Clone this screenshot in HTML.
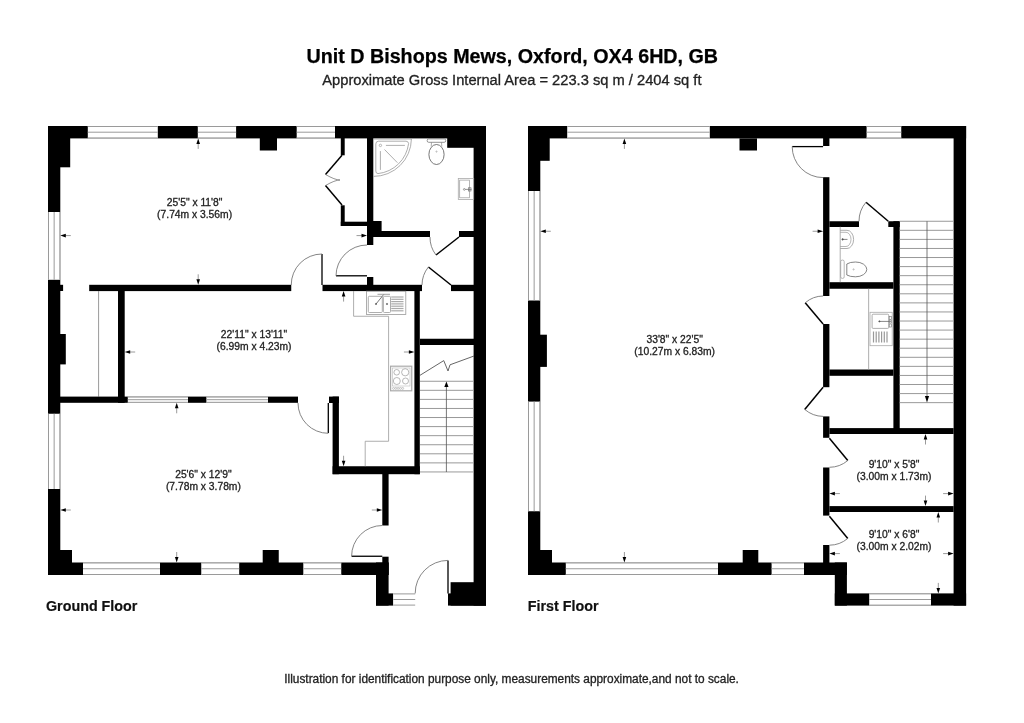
<!DOCTYPE html>
<html><head><meta charset="utf-8"><style>
html,body{margin:0;padding:0;background:#fff;}
body{width:1024px;height:723px;overflow:hidden;}
svg{display:block;will-change:transform;}
text{font-family:"Liberation Sans",sans-serif;}
</style></head><body>
<svg width="1024" height="723" viewBox="0 0 1024 723">
<rect width="1024" height="723" fill="#fff"/>
<rect x="48.00" y="126.00" width="438.00" height="12.40" fill="#000"/>
<rect x="87.80" y="126.00" width="70.00" height="12.40" fill="#fff"/>
<line x1="87.80" y1="126.50" x2="157.80" y2="126.50" stroke="#9a9a9a" stroke-width="1"/>
<line x1="87.80" y1="132.20" x2="157.80" y2="132.20" stroke="#9a9a9a" stroke-width="1"/>
<line x1="87.80" y1="137.90" x2="157.80" y2="137.90" stroke="#9a9a9a" stroke-width="1"/>
<rect x="197.80" y="126.00" width="38.30" height="12.40" fill="#fff"/>
<line x1="197.80" y1="126.50" x2="236.10" y2="126.50" stroke="#9a9a9a" stroke-width="1"/>
<line x1="197.80" y1="132.20" x2="236.10" y2="132.20" stroke="#9a9a9a" stroke-width="1"/>
<line x1="197.80" y1="137.90" x2="236.10" y2="137.90" stroke="#9a9a9a" stroke-width="1"/>
<rect x="296.70" y="126.00" width="38.30" height="12.40" fill="#fff"/>
<line x1="296.70" y1="126.50" x2="335.00" y2="126.50" stroke="#9a9a9a" stroke-width="1"/>
<line x1="296.70" y1="132.20" x2="335.00" y2="132.20" stroke="#9a9a9a" stroke-width="1"/>
<line x1="296.70" y1="137.90" x2="335.00" y2="137.90" stroke="#9a9a9a" stroke-width="1"/>
<rect x="48.00" y="126.00" width="22.20" height="41.30" fill="#000"/>
<rect x="259.80" y="138.00" width="17.20" height="12.50" fill="#000"/>
<rect x="447.20" y="138.00" width="26.80" height="9.80" fill="#000"/>
<rect x="473.60" y="126.00" width="12.40" height="479.60" fill="#000"/>
<rect x="48.00" y="126.00" width="12.30" height="449.00" fill="#000"/>
<rect x="48.00" y="212.00" width="12.30" height="67.80" fill="#fff"/>
<line x1="48.50" y1="212.00" x2="48.50" y2="279.80" stroke="#9a9a9a" stroke-width="1"/>
<line x1="54.15" y1="212.00" x2="54.15" y2="279.80" stroke="#9a9a9a" stroke-width="1"/>
<line x1="59.80" y1="212.00" x2="59.80" y2="279.80" stroke="#9a9a9a" stroke-width="1"/>
<rect x="48.00" y="413.75" width="12.30" height="75.25" fill="#fff"/>
<line x1="48.50" y1="413.75" x2="48.50" y2="489.00" stroke="#9a9a9a" stroke-width="1"/>
<line x1="54.15" y1="413.75" x2="54.15" y2="489.00" stroke="#9a9a9a" stroke-width="1"/>
<line x1="59.80" y1="413.75" x2="59.80" y2="489.00" stroke="#9a9a9a" stroke-width="1"/>
<rect x="60.00" y="284.80" width="3.10" height="6.20" fill="#000"/>
<rect x="60.00" y="334.00" width="5.80" height="30.40" fill="#000"/>
<rect x="48.00" y="550.00" width="24.00" height="25.00" fill="#000"/>
<rect x="48.00" y="562.50" width="340.60" height="12.50" fill="#000"/>
<rect x="83.00" y="562.50" width="77.00" height="12.50" fill="#fff"/>
<line x1="83.00" y1="563.00" x2="160.00" y2="563.00" stroke="#9a9a9a" stroke-width="1"/>
<line x1="83.00" y1="568.75" x2="160.00" y2="568.75" stroke="#9a9a9a" stroke-width="1"/>
<line x1="83.00" y1="574.50" x2="160.00" y2="574.50" stroke="#9a9a9a" stroke-width="1"/>
<rect x="201.25" y="562.50" width="37.95" height="12.50" fill="#fff"/>
<line x1="201.25" y1="563.00" x2="239.20" y2="563.00" stroke="#9a9a9a" stroke-width="1"/>
<line x1="201.25" y1="568.75" x2="239.20" y2="568.75" stroke="#9a9a9a" stroke-width="1"/>
<line x1="201.25" y1="574.50" x2="239.20" y2="574.50" stroke="#9a9a9a" stroke-width="1"/>
<rect x="303.30" y="562.50" width="37.95" height="12.50" fill="#fff"/>
<line x1="303.30" y1="563.00" x2="341.25" y2="563.00" stroke="#9a9a9a" stroke-width="1"/>
<line x1="303.30" y1="568.75" x2="341.25" y2="568.75" stroke="#9a9a9a" stroke-width="1"/>
<line x1="303.30" y1="574.50" x2="341.25" y2="574.50" stroke="#9a9a9a" stroke-width="1"/>
<rect x="262.70" y="550.00" width="16.05" height="13.00" fill="#000"/>
<rect x="382.30" y="474.00" width="6.30" height="51.50" fill="#000"/>
<rect x="382.30" y="556.70" width="6.30" height="18.30" fill="#000"/>
<rect x="376.00" y="562.50" width="12.60" height="43.10" fill="#000"/>
<rect x="376.00" y="593.40" width="17.30" height="12.20" fill="#000"/>
<rect x="393.30" y="593.40" width="21.90" height="12.20" fill="#fff"/>
<line x1="393.30" y1="593.90" x2="415.20" y2="593.90" stroke="#9a9a9a" stroke-width="1"/>
<line x1="393.30" y1="599.50" x2="415.20" y2="599.50" stroke="#9a9a9a" stroke-width="1"/>
<line x1="393.30" y1="605.10" x2="415.20" y2="605.10" stroke="#9a9a9a" stroke-width="1"/>
<rect x="448.00" y="593.40" width="38.00" height="12.20" fill="#000"/>
<rect x="450.60" y="582.20" width="35.40" height="23.40" fill="#000"/>
<line x1="448.00" y1="560.60" x2="448.00" y2="593.40" stroke="#000" stroke-width="1.3"/>
<path d="M415.20,593.40 A32.80,32.80 0 0 1 448.00,560.40" stroke="#777" stroke-width="0.9" fill="none"/>
<line x1="351.60" y1="556.25" x2="382.30" y2="556.25" stroke="#000" stroke-width="1.3"/>
<path d="M382.30,525.50 A30.75,30.75 0 0 0 351.60,556.25" stroke="#777" stroke-width="0.9" fill="none"/>
<rect x="89.20" y="284.80" width="202.05" height="6.30" fill="#000"/>
<rect x="322.50" y="284.80" width="99.50" height="6.30" fill="#000"/>
<rect x="451.00" y="284.80" width="23.00" height="6.30" fill="#000"/>
<line x1="322.00" y1="254.00" x2="322.00" y2="285.00" stroke="#000" stroke-width="1.3"/>
<path d="M291.25,285.00 A30.75,30.75 0 0 1 322.00,254.00" stroke="#777" stroke-width="0.9" fill="none"/>
<rect x="118.00" y="291.00" width="6.70" height="111.80" fill="#000"/>
<line x1="98.60" y1="291.00" x2="98.60" y2="396.60" stroke="#9a9a9a" stroke-width="1"/>
<rect x="60.00" y="396.60" width="238.00" height="6.20" fill="#000"/>
<rect x="127.80" y="396.60" width="60.20" height="6.20" fill="#fff"/>
<line x1="127.80" y1="397.10" x2="188.00" y2="397.10" stroke="#9a9a9a" stroke-width="1"/>
<line x1="127.80" y1="399.70" x2="188.00" y2="399.70" stroke="#9a9a9a" stroke-width="1"/>
<line x1="127.80" y1="402.30" x2="188.00" y2="402.30" stroke="#9a9a9a" stroke-width="1"/>
<rect x="206.40" y="396.60" width="61.60" height="6.20" fill="#fff"/>
<line x1="206.40" y1="397.10" x2="268.00" y2="397.10" stroke="#9a9a9a" stroke-width="1"/>
<line x1="206.40" y1="399.70" x2="268.00" y2="399.70" stroke="#9a9a9a" stroke-width="1"/>
<line x1="206.40" y1="402.30" x2="268.00" y2="402.30" stroke="#9a9a9a" stroke-width="1"/>
<rect x="329.00" y="396.60" width="9.90" height="6.40" fill="#000"/>
<rect x="332.60" y="396.60" width="6.30" height="77.60" fill="#000"/>
<rect x="332.60" y="466.25" width="87.20" height="7.95" fill="#000"/>
<path d="M328.3,403 L328.3,433" stroke="#000" stroke-width="1.3" fill="none"/>
<path d="M298.00,403.00 A30.30,30.30 0 0 0 328.30,433.30" stroke="#777" stroke-width="0.9" fill="none"/>
<rect x="414.40" y="291.00" width="5.40" height="183.20" fill="#000"/>
<rect x="367.00" y="138.00" width="6.30" height="107.00" fill="#000"/>
<rect x="367.00" y="277.00" width="6.30" height="14.00" fill="#000"/>
<rect x="367.00" y="221.00" width="14.60" height="10.00" fill="#000"/>
<rect x="373.00" y="231.00" width="57.00" height="6.00" fill="#000"/>
<rect x="459.00" y="231.00" width="15.00" height="6.00" fill="#000"/>
<line x1="336.00" y1="275.80" x2="367.00" y2="275.80" stroke="#000" stroke-width="1.3"/>
<path d="M336.00,275.80 A31.00,31.00 0 0 1 367.00,245.00" stroke="#777" stroke-width="0.9" fill="none"/>
<line x1="459.00" y1="237.00" x2="436.00" y2="255.00" stroke="#000" stroke-width="1.5"/>
<path d="M430.00,237.00 A29.00,29.00 0 0 0 436.00,255.00" stroke="#777" stroke-width="0.9" fill="none"/>
<line x1="451.00" y1="285.00" x2="428.40" y2="267.00" stroke="#000" stroke-width="1.5"/>
<path d="M422.00,285.00 A29.00,29.00 0 0 1 428.40,267.00" stroke="#777" stroke-width="0.9" fill="none"/>
<rect x="340.80" y="138.00" width="3.90" height="17.30" fill="#000"/>
<rect x="340.80" y="205.30" width="3.90" height="20.70" fill="#000"/>
<rect x="340.80" y="221.70" width="26.20" height="4.30" fill="#000"/>
<path d="M342,155.3 L325.5,174.5" stroke="#000" stroke-width="1.5" fill="none"/>
<path d="M342,205 L325.5,185.5" stroke="#000" stroke-width="1.5" fill="none"/>
<path d="M325.5,174.5 Q335,180 340,180" stroke="#777" stroke-width="0.8" fill="none"/>
<path d="M325.5,185.5 Q335,180 340,180" stroke="#777" stroke-width="0.8" fill="none"/>
<rect x="420.00" y="338.75" width="54.00" height="6.25" fill="#000"/>
<path d="M420,375.3 L443.75,360.6 L448,371 L450,364.8 L474,356" stroke="#555" stroke-width="0.9" fill="none"/>
<line x1="420.00" y1="381.25" x2="473.60" y2="381.25" stroke="#999" stroke-width="1"/>
<line x1="420.00" y1="390.32" x2="473.60" y2="390.32" stroke="#999" stroke-width="1"/>
<line x1="420.00" y1="399.39" x2="473.60" y2="399.39" stroke="#999" stroke-width="1"/>
<line x1="420.00" y1="408.46" x2="473.60" y2="408.46" stroke="#999" stroke-width="1"/>
<line x1="420.00" y1="417.53" x2="473.60" y2="417.53" stroke="#999" stroke-width="1"/>
<line x1="420.00" y1="426.60" x2="473.60" y2="426.60" stroke="#999" stroke-width="1"/>
<line x1="420.00" y1="435.67" x2="473.60" y2="435.67" stroke="#999" stroke-width="1"/>
<line x1="420.00" y1="444.74" x2="473.60" y2="444.74" stroke="#999" stroke-width="1"/>
<line x1="420.00" y1="453.81" x2="473.60" y2="453.81" stroke="#999" stroke-width="1"/>
<line x1="420.00" y1="462.88" x2="473.60" y2="462.88" stroke="#999" stroke-width="1"/>
<line x1="420.00" y1="471.95" x2="473.60" y2="471.95" stroke="#999" stroke-width="1"/>
<line x1="446.40" y1="386.00" x2="446.40" y2="472.00" stroke="#555" stroke-width="0.8"/>
<path d="M446.4,381.5 L444.3,387 L448.5,387 Z" stroke="none" stroke-width="0" fill="#000"/>
<rect x="528.00" y="126.00" width="438.10" height="12.40" fill="#000"/>
<rect x="567.20" y="126.00" width="142.60" height="12.40" fill="#fff"/>
<line x1="567.20" y1="126.50" x2="709.80" y2="126.50" stroke="#9a9a9a" stroke-width="1"/>
<line x1="567.20" y1="132.20" x2="709.80" y2="132.20" stroke="#9a9a9a" stroke-width="1"/>
<line x1="567.20" y1="137.90" x2="709.80" y2="137.90" stroke="#9a9a9a" stroke-width="1"/>
<rect x="866.60" y="126.00" width="34.65" height="12.40" fill="#fff"/>
<line x1="866.60" y1="126.50" x2="901.25" y2="126.50" stroke="#9a9a9a" stroke-width="1"/>
<line x1="866.60" y1="132.20" x2="901.25" y2="132.20" stroke="#9a9a9a" stroke-width="1"/>
<line x1="866.60" y1="137.90" x2="901.25" y2="137.90" stroke="#9a9a9a" stroke-width="1"/>
<rect x="528.00" y="126.00" width="21.70" height="34.80" fill="#000"/>
<rect x="739.50" y="138.40" width="17.50" height="12.10" fill="#000"/>
<rect x="953.60" y="126.00" width="12.50" height="479.60" fill="#000"/>
<rect x="528.00" y="126.00" width="12.30" height="449.00" fill="#000"/>
<rect x="528.00" y="191.00" width="12.30" height="109.50" fill="#fff"/>
<line x1="528.50" y1="191.00" x2="528.50" y2="300.50" stroke="#9a9a9a" stroke-width="1"/>
<line x1="534.15" y1="191.00" x2="534.15" y2="300.50" stroke="#9a9a9a" stroke-width="1"/>
<line x1="539.80" y1="191.00" x2="539.80" y2="300.50" stroke="#9a9a9a" stroke-width="1"/>
<rect x="528.00" y="401.60" width="12.30" height="109.65" fill="#fff"/>
<line x1="528.50" y1="401.60" x2="528.50" y2="511.25" stroke="#9a9a9a" stroke-width="1"/>
<line x1="534.15" y1="401.60" x2="534.15" y2="511.25" stroke="#9a9a9a" stroke-width="1"/>
<line x1="539.80" y1="401.60" x2="539.80" y2="511.25" stroke="#9a9a9a" stroke-width="1"/>
<rect x="540.00" y="334.70" width="6.90" height="32.20" fill="#000"/>
<rect x="528.00" y="550.00" width="24.00" height="25.00" fill="#000"/>
<rect x="528.00" y="562.50" width="318.90" height="12.50" fill="#000"/>
<rect x="565.80" y="562.50" width="152.20" height="12.50" fill="#fff"/>
<line x1="565.80" y1="563.00" x2="718.00" y2="563.00" stroke="#9a9a9a" stroke-width="1"/>
<line x1="565.80" y1="568.75" x2="718.00" y2="568.75" stroke="#9a9a9a" stroke-width="1"/>
<line x1="565.80" y1="574.50" x2="718.00" y2="574.50" stroke="#9a9a9a" stroke-width="1"/>
<rect x="771.60" y="562.50" width="32.40" height="12.50" fill="#fff"/>
<line x1="771.60" y1="563.00" x2="804.00" y2="563.00" stroke="#9a9a9a" stroke-width="1"/>
<line x1="771.60" y1="568.75" x2="804.00" y2="568.75" stroke="#9a9a9a" stroke-width="1"/>
<line x1="771.60" y1="574.50" x2="804.00" y2="574.50" stroke="#9a9a9a" stroke-width="1"/>
<rect x="742.70" y="550.00" width="15.60" height="13.00" fill="#000"/>
<rect x="834.80" y="562.50" width="12.10" height="43.10" fill="#000"/>
<rect x="834.80" y="593.40" width="131.30" height="12.20" fill="#000"/>
<rect x="869.20" y="593.40" width="61.80" height="12.20" fill="#fff"/>
<line x1="869.20" y1="593.90" x2="931.00" y2="593.90" stroke="#9a9a9a" stroke-width="1"/>
<line x1="869.20" y1="599.50" x2="931.00" y2="599.50" stroke="#9a9a9a" stroke-width="1"/>
<line x1="869.20" y1="605.10" x2="931.00" y2="605.10" stroke="#9a9a9a" stroke-width="1"/>
<rect x="823.10" y="138.00" width="6.30" height="8.00" fill="#000"/>
<rect x="823.10" y="177.20" width="6.30" height="118.80" fill="#000"/>
<rect x="823.10" y="324.00" width="6.30" height="63.20" fill="#000"/>
<rect x="823.10" y="416.40" width="6.30" height="21.40" fill="#000"/>
<rect x="823.10" y="467.50" width="6.30" height="48.10" fill="#000"/>
<rect x="823.10" y="545.00" width="6.30" height="18.00" fill="#000"/>
<rect x="829.40" y="221.25" width="29.60" height="5.75" fill="#000"/>
<rect x="888.30" y="221.25" width="11.40" height="5.75" fill="#000"/>
<rect x="893.40" y="221.25" width="6.30" height="212.75" fill="#000"/>
<rect x="829.40" y="282.20" width="64.00" height="6.55" fill="#000"/>
<rect x="829.40" y="369.50" width="64.00" height="6.30" fill="#000"/>
<rect x="829.40" y="428.10" width="124.20" height="5.90" fill="#000"/>
<rect x="829.40" y="506.10" width="124.20" height="5.90" fill="#000"/>
<line x1="792.20" y1="146.60" x2="823.10" y2="146.60" stroke="#000" stroke-width="1.3"/>
<path d="M792.20,146.60 A30.90,30.90 0 0 0 823.10,177.60" stroke="#777" stroke-width="0.9" fill="none"/>
<line x1="823.10" y1="324.00" x2="805.20" y2="302.80" stroke="#000" stroke-width="1.5"/>
<path d="M805.20,302.80 A27.75,27.75 0 0 1 823.10,296.00" stroke="#777" stroke-width="0.9" fill="none"/>
<line x1="823.10" y1="387.20" x2="804.70" y2="409.40" stroke="#000" stroke-width="1.5"/>
<path d="M804.70,409.40 A28.83,28.83 0 0 0 823.10,416.40" stroke="#777" stroke-width="0.9" fill="none"/>
<line x1="829.40" y1="438.30" x2="847.80" y2="460.50" stroke="#000" stroke-width="1.5"/>
<path d="M847.80,460.50 A28.83,28.83 0 0 1 829.40,467.30" stroke="#777" stroke-width="0.9" fill="none"/>
<line x1="829.40" y1="516.30" x2="847.80" y2="538.40" stroke="#000" stroke-width="1.5"/>
<path d="M847.80,538.40 A28.76,28.76 0 0 1 829.40,545.20" stroke="#777" stroke-width="0.9" fill="none"/>
<line x1="888.30" y1="221.25" x2="866.00" y2="202.20" stroke="#000" stroke-width="1.5"/>
<path d="M866.00,202.20 A29.33,29.33 0 0 0 859.00,221.25" stroke="#777" stroke-width="0.9" fill="none"/>
<line x1="899.70" y1="221.25" x2="953.60" y2="221.25" stroke="#999" stroke-width="1"/>
<line x1="899.70" y1="230.32" x2="953.60" y2="230.32" stroke="#999" stroke-width="1"/>
<line x1="899.70" y1="239.39" x2="953.60" y2="239.39" stroke="#999" stroke-width="1"/>
<line x1="899.70" y1="248.46" x2="953.60" y2="248.46" stroke="#999" stroke-width="1"/>
<line x1="899.70" y1="257.53" x2="953.60" y2="257.53" stroke="#999" stroke-width="1"/>
<line x1="899.70" y1="266.60" x2="953.60" y2="266.60" stroke="#999" stroke-width="1"/>
<line x1="899.70" y1="275.67" x2="953.60" y2="275.67" stroke="#999" stroke-width="1"/>
<line x1="899.70" y1="284.74" x2="953.60" y2="284.74" stroke="#999" stroke-width="1"/>
<line x1="899.70" y1="293.81" x2="953.60" y2="293.81" stroke="#999" stroke-width="1"/>
<line x1="899.70" y1="302.88" x2="953.60" y2="302.88" stroke="#999" stroke-width="1"/>
<line x1="899.70" y1="311.95" x2="953.60" y2="311.95" stroke="#999" stroke-width="1"/>
<line x1="899.70" y1="321.02" x2="953.60" y2="321.02" stroke="#999" stroke-width="1"/>
<line x1="899.70" y1="330.09" x2="953.60" y2="330.09" stroke="#999" stroke-width="1"/>
<line x1="899.70" y1="339.16" x2="953.60" y2="339.16" stroke="#999" stroke-width="1"/>
<line x1="899.70" y1="348.23" x2="953.60" y2="348.23" stroke="#999" stroke-width="1"/>
<line x1="899.70" y1="357.30" x2="953.60" y2="357.30" stroke="#999" stroke-width="1"/>
<line x1="899.70" y1="366.37" x2="953.60" y2="366.37" stroke="#999" stroke-width="1"/>
<line x1="899.70" y1="375.44" x2="953.60" y2="375.44" stroke="#999" stroke-width="1"/>
<line x1="899.70" y1="384.51" x2="953.60" y2="384.51" stroke="#999" stroke-width="1"/>
<line x1="899.70" y1="393.58" x2="953.60" y2="393.58" stroke="#999" stroke-width="1"/>
<line x1="899.70" y1="402.65" x2="953.60" y2="402.65" stroke="#999" stroke-width="1"/>
<line x1="927.00" y1="221.25" x2="927.00" y2="396.00" stroke="#555" stroke-width="0.8"/>
<path d="M927,402.6 L924.9,396 L929.1,396 Z" stroke="none" stroke-width="0" fill="#000"/>
<path d="M373.5,139 L411.4,139 A37.9,37.9 0 0 1 373.5,176.4" stroke="#999" stroke-width="0.8" fill="none"/>
<path d="M375.8,144 Q375.8,141.2 378.6,141.2 L406,141.2 Q408.2,141.2 408.6,143.5 A34.5,34.5 0 0 1 378,173.6 Q375.8,173.6 375.8,171 Z" stroke="#999" stroke-width="0.8" fill="none"/>
<circle cx="380.40" cy="145.40" r="1.20" stroke="#999" stroke-width="0.7" fill="none"/>
<line x1="385.90" y1="145.40" x2="404.90" y2="145.40" stroke="#999" stroke-width="0.8"/>
<line x1="380.40" y1="151.10" x2="380.40" y2="169.90" stroke="#999" stroke-width="0.8"/>
<line x1="384.50" y1="149.50" x2="397.40" y2="162.70" stroke="#999" stroke-width="0.8"/>
<rect x="427.20" y="138.90" width="18.50" height="3.40" rx="1.5" stroke="#777" stroke-width="0.8" fill="none"/>
<ellipse cx="436.50" cy="154.50" rx="7.60" ry="10.00" stroke="#555" stroke-width="0.8" fill="none"/>
<line x1="431.50" y1="142.30" x2="431.20" y2="146.50" stroke="#888" stroke-width="0.7"/>
<line x1="441.50" y1="142.30" x2="441.80" y2="146.50" stroke="#888" stroke-width="0.7"/>
<circle cx="436.50" cy="151.60" r="0.60" stroke="#999" stroke-width="0.6" fill="none"/>
<rect x="458.30" y="178.50" width="15.40" height="21.00" rx="0" stroke="#aaa" stroke-width="0.8" fill="none"/>
<rect x="459.70" y="180.10" width="9.70" height="17.70" rx="0" stroke="#999" stroke-width="0.7" fill="none"/>
<circle cx="464.30" cy="189.40" r="0.90" stroke="#666" stroke-width="0.6" fill="none"/>
<line x1="465.20" y1="189.40" x2="471.50" y2="189.40" stroke="#666" stroke-width="0.7"/>
<rect x="468.50" y="187.80" width="2.50" height="3.20" rx="0" stroke="#666" stroke-width="0.6" fill="none"/>
<path d="M353.6,291 L353.6,316.25 L388.6,316.25 L388.6,441.25 L365.2,441.25 L365.2,466.25" stroke="#999" stroke-width="0.8" fill="none"/>
<rect x="366.50" y="291.20" width="39.30" height="23.30" rx="0" stroke="#999" stroke-width="0.8" fill="none"/>
<rect x="368.30" y="296.30" width="14.00" height="16.20" rx="1" stroke="#999" stroke-width="0.8" fill="none"/>
<rect x="383.40" y="296.30" width="7.10" height="16.20" rx="1" stroke="#999" stroke-width="0.8" fill="none"/>
<line x1="391.20" y1="297.00" x2="403.50" y2="297.00" stroke="#aaa" stroke-width="1.2"/>
<line x1="391.20" y1="299.30" x2="403.50" y2="299.30" stroke="#aaa" stroke-width="1.2"/>
<line x1="391.20" y1="301.60" x2="403.50" y2="301.60" stroke="#aaa" stroke-width="1.2"/>
<line x1="391.20" y1="303.90" x2="403.50" y2="303.90" stroke="#aaa" stroke-width="1.2"/>
<line x1="391.20" y1="306.20" x2="403.50" y2="306.20" stroke="#aaa" stroke-width="1.2"/>
<line x1="391.20" y1="308.50" x2="403.50" y2="308.50" stroke="#aaa" stroke-width="1.2"/>
<line x1="391.20" y1="310.80" x2="403.50" y2="310.80" stroke="#aaa" stroke-width="1.2"/>
<line x1="376.00" y1="304.00" x2="383.70" y2="294.50" stroke="#555" stroke-width="0.8"/>
<circle cx="376.00" cy="304.00" r="0.70" stroke="#555" stroke-width="0.5" fill="#555"/>
<circle cx="387.00" cy="304.00" r="0.70" stroke="#555" stroke-width="0.5" fill="#555"/>
<line x1="377.50" y1="294.30" x2="390.00" y2="294.30" stroke="#777" stroke-width="0.7"/>
<rect x="390.60" y="366.20" width="21.15" height="24.60" rx="0" stroke="#aaa" stroke-width="1.2" fill="none"/>
<rect x="392.40" y="368.00" width="17.60" height="18.00" rx="0" stroke="#bbb" stroke-width="0.6" fill="none"/>
<circle cx="396.70" cy="372.30" r="2.80" stroke="#999" stroke-width="0.7" fill="none"/>
<circle cx="405.20" cy="372.30" r="3.60" stroke="#999" stroke-width="0.7" fill="none"/>
<circle cx="396.80" cy="381.00" r="3.50" stroke="#999" stroke-width="0.7" fill="none"/>
<circle cx="405.50" cy="381.00" r="3.00" stroke="#999" stroke-width="0.7" fill="none"/>
<circle cx="393.50" cy="388.40" r="1.00" stroke="#aaa" stroke-width="0.6" fill="none"/>
<circle cx="395.80" cy="388.40" r="1.00" stroke="#aaa" stroke-width="0.6" fill="none"/>
<circle cx="398.10" cy="388.40" r="1.00" stroke="#aaa" stroke-width="0.6" fill="none"/>
<circle cx="400.40" cy="388.40" r="1.00" stroke="#aaa" stroke-width="0.6" fill="none"/>
<circle cx="402.70" cy="388.40" r="1.00" stroke="#aaa" stroke-width="0.6" fill="none"/>
<path d="M840.2,230.3 L847,230.3 A6.6,9.1 0 0 1 847,248.5 L840.2,248.5" stroke="#999" stroke-width="0.8" fill="none"/>
<path d="M840.2,232.3 L846,232.3 A5,7.1 0 0 1 846,246.5 L840.2,246.5" stroke="#999" stroke-width="0.7" fill="none"/>
<circle cx="842.60" cy="239.40" r="0.80" stroke="#555" stroke-width="0.5" fill="#555"/>
<line x1="842.60" y1="239.40" x2="847.50" y2="239.40" stroke="#555" stroke-width="0.7"/>
<line x1="840.20" y1="226.70" x2="840.20" y2="282.20" stroke="#999" stroke-width="0.8"/>
<rect x="840.70" y="260.10" width="3.50" height="18.30" rx="1.5" stroke="#999" stroke-width="0.7" fill="none"/>
<path d="M846.8,264 Q850,262 855.5,262 A11.3,7.4 0 0 1 855.5,276.8 Q850,276.8 846.8,275 Z" stroke="#666" stroke-width="0.8" fill="none"/>
<circle cx="853.60" cy="269.40" r="0.60" stroke="#999" stroke-width="0.6" fill="none"/>
<line x1="868.65" y1="288.75" x2="868.65" y2="369.50" stroke="#999" stroke-width="0.8"/>
<rect x="870.00" y="312.30" width="22.20" height="33.40" rx="0" stroke="#aaa" stroke-width="0.8" fill="none"/>
<rect x="872.10" y="314.20" width="16.60" height="14.20" rx="1" stroke="#999" stroke-width="0.8" fill="none"/>
<line x1="873.50" y1="331.50" x2="873.50" y2="342.50" stroke="#999" stroke-width="1.2"/>
<line x1="876.20" y1="331.50" x2="876.20" y2="342.50" stroke="#999" stroke-width="1.2"/>
<line x1="878.90" y1="331.50" x2="878.90" y2="342.50" stroke="#999" stroke-width="1.2"/>
<line x1="881.60" y1="331.50" x2="881.60" y2="342.50" stroke="#999" stroke-width="1.2"/>
<line x1="884.30" y1="331.50" x2="884.30" y2="342.50" stroke="#999" stroke-width="1.2"/>
<line x1="887.00" y1="331.50" x2="887.00" y2="342.50" stroke="#999" stroke-width="1.2"/>
<line x1="879.40" y1="321.40" x2="891.00" y2="321.40" stroke="#555" stroke-width="0.7"/>
<circle cx="879.40" cy="321.40" r="0.70" stroke="#555" stroke-width="0.5" fill="#555"/>
<rect x="889.20" y="316.50" width="2.20" height="3.00" rx="0" stroke="#777" stroke-width="0.6" fill="none"/>
<rect x="889.20" y="320.00" width="2.20" height="3.00" rx="0" stroke="#777" stroke-width="0.6" fill="none"/>
<rect x="889.20" y="324.00" width="2.20" height="3.00" rx="0" stroke="#777" stroke-width="0.6" fill="none"/>
<line x1="198.20" y1="143.40" x2="198.20" y2="148.90" stroke="#9a9a9a" stroke-width="1.0"/>
<path d="M198.2,138.4 L196.39999999999998,143.9 L200.0,143.9 Z" stroke="none" stroke-width="0" fill="#000"/>
<line x1="198.20" y1="274.30" x2="198.20" y2="279.80" stroke="#9a9a9a" stroke-width="1.0"/>
<path d="M198.2,284.8 L196.39999999999998,279.3 L200.0,279.3 Z" stroke="none" stroke-width="0" fill="#000"/>
<line x1="65.30" y1="235.60" x2="70.80" y2="235.60" stroke="#9a9a9a" stroke-width="1.0"/>
<path d="M60.3,235.6 L65.8,233.79999999999998 L65.8,237.4 Z" stroke="none" stroke-width="0" fill="#000"/>
<line x1="356.50" y1="235.60" x2="362.00" y2="235.60" stroke="#9a9a9a" stroke-width="1.0"/>
<path d="M367,235.6 L361.5,233.79999999999998 L361.5,237.4 Z" stroke="none" stroke-width="0" fill="#000"/>
<line x1="343.60" y1="296.10" x2="343.60" y2="301.60" stroke="#9a9a9a" stroke-width="1.0"/>
<path d="M343.6,291.1 L341.8,296.6 L345.40000000000003,296.6 Z" stroke="none" stroke-width="0" fill="#000"/>
<line x1="129.70" y1="352.00" x2="135.20" y2="352.00" stroke="#9a9a9a" stroke-width="1.0"/>
<path d="M124.7,352 L130.2,350.2 L130.2,353.8 Z" stroke="none" stroke-width="0" fill="#000"/>
<line x1="403.90" y1="352.00" x2="409.40" y2="352.00" stroke="#9a9a9a" stroke-width="1.0"/>
<path d="M414.4,352 L408.9,350.2 L408.9,353.8 Z" stroke="none" stroke-width="0" fill="#000"/>
<line x1="343.60" y1="455.75" x2="343.60" y2="461.25" stroke="#9a9a9a" stroke-width="1.0"/>
<path d="M343.6,466.25 L341.8,460.75 L345.40000000000003,460.75 Z" stroke="none" stroke-width="0" fill="#000"/>
<line x1="176.70" y1="407.80" x2="176.70" y2="413.30" stroke="#9a9a9a" stroke-width="1.0"/>
<path d="M176.7,402.8 L174.89999999999998,408.3 L178.5,408.3 Z" stroke="none" stroke-width="0" fill="#000"/>
<line x1="65.30" y1="510.00" x2="70.80" y2="510.00" stroke="#9a9a9a" stroke-width="1.0"/>
<path d="M60.3,510 L65.8,508.2 L65.8,511.8 Z" stroke="none" stroke-width="0" fill="#000"/>
<line x1="371.80" y1="510.00" x2="377.30" y2="510.00" stroke="#9a9a9a" stroke-width="1.0"/>
<path d="M382.3,510 L376.8,508.2 L376.8,511.8 Z" stroke="none" stroke-width="0" fill="#000"/>
<line x1="176.70" y1="552.00" x2="176.70" y2="557.50" stroke="#9a9a9a" stroke-width="1.0"/>
<path d="M176.7,562.5 L174.89999999999998,557.0 L178.5,557.0 Z" stroke="none" stroke-width="0" fill="#000"/>
<line x1="624.40" y1="143.40" x2="624.40" y2="148.90" stroke="#9a9a9a" stroke-width="1.0"/>
<path d="M624.4,138.4 L622.6,143.9 L626.1999999999999,143.9 Z" stroke="none" stroke-width="0" fill="#000"/>
<line x1="624.40" y1="552.00" x2="624.40" y2="557.50" stroke="#9a9a9a" stroke-width="1.0"/>
<path d="M624.4,562.5 L622.6,557.0 L626.1999999999999,557.0 Z" stroke="none" stroke-width="0" fill="#000"/>
<line x1="545.30" y1="231.25" x2="550.80" y2="231.25" stroke="#9a9a9a" stroke-width="1.0"/>
<path d="M540.3,231.25 L545.8,229.45 L545.8,233.05 Z" stroke="none" stroke-width="0" fill="#000"/>
<line x1="812.60" y1="231.25" x2="818.10" y2="231.25" stroke="#9a9a9a" stroke-width="1.0"/>
<path d="M823.1,231.25 L817.6,229.45 L817.6,233.05 Z" stroke="none" stroke-width="0" fill="#000"/>
<line x1="925.50" y1="439.00" x2="925.50" y2="444.50" stroke="#9a9a9a" stroke-width="1.0"/>
<path d="M925.5,434 L923.7,439.5 L927.3,439.5 Z" stroke="none" stroke-width="0" fill="#000"/>
<line x1="925.50" y1="495.60" x2="925.50" y2="501.10" stroke="#9a9a9a" stroke-width="1.0"/>
<path d="M925.5,506.1 L923.7,500.6 L927.3,500.6 Z" stroke="none" stroke-width="0" fill="#000"/>
<line x1="834.40" y1="493.60" x2="839.90" y2="493.60" stroke="#9a9a9a" stroke-width="1.0"/>
<path d="M829.4,493.6 L834.9,491.8 L834.9,495.40000000000003 Z" stroke="none" stroke-width="0" fill="#000"/>
<line x1="943.10" y1="493.60" x2="948.60" y2="493.60" stroke="#9a9a9a" stroke-width="1.0"/>
<path d="M953.6,493.6 L948.1,491.8 L948.1,495.40000000000003 Z" stroke="none" stroke-width="0" fill="#000"/>
<line x1="938.30" y1="517.00" x2="938.30" y2="522.50" stroke="#9a9a9a" stroke-width="1.0"/>
<path d="M938.3,512 L936.5,517.5 L940.0999999999999,517.5 Z" stroke="none" stroke-width="0" fill="#000"/>
<line x1="938.30" y1="582.90" x2="938.30" y2="588.40" stroke="#9a9a9a" stroke-width="1.0"/>
<path d="M938.3,593.4 L936.5,587.9 L940.0999999999999,587.9 Z" stroke="none" stroke-width="0" fill="#000"/>
<line x1="834.40" y1="553.60" x2="839.90" y2="553.60" stroke="#9a9a9a" stroke-width="1.0"/>
<path d="M829.4,553.6 L834.9,551.8000000000001 L834.9,555.4 Z" stroke="none" stroke-width="0" fill="#000"/>
<line x1="943.10" y1="553.60" x2="948.60" y2="553.60" stroke="#9a9a9a" stroke-width="1.0"/>
<path d="M953.6,553.6 L948.1,551.8000000000001 L948.1,555.4 Z" stroke="none" stroke-width="0" fill="#000"/>
<text x="512.3" y="62.7" font-size="19.72" font-weight="bold" text-anchor="middle" fill="#000" stroke="#000" stroke-width="0.25">Unit D Bishops Mews, Oxford, OX4 6HD, GB</text><text x="511.9" y="85.2" font-size="14.7" font-weight="normal" text-anchor="middle" fill="#222" stroke="#222" stroke-width="0.3">Approximate Gross Internal Area = 223.3 sq m / 2404 sq ft</text><text x="194.6" y="205.6" font-size="10.3" font-weight="normal" text-anchor="middle" fill="#222" stroke="#222" stroke-width="0.3">25'5&quot; x 11'8&quot;</text><text x="194.6" y="217.6" font-size="10.3" font-weight="normal" text-anchor="middle" fill="#222" stroke="#222" stroke-width="0.3">(7.74m x 3.56m)</text><text x="254" y="337.9" font-size="10.3" font-weight="normal" text-anchor="middle" fill="#222" stroke="#222" stroke-width="0.3">22'11&quot; x 13'11&quot;</text><text x="254" y="349.9" font-size="10.3" font-weight="normal" text-anchor="middle" fill="#222" stroke="#222" stroke-width="0.3">(6.99m x 4.23m)</text><text x="203.4" y="477.6" font-size="10.3" font-weight="normal" text-anchor="middle" fill="#222" stroke="#222" stroke-width="0.3">25'6&quot; x 12'9&quot;</text><text x="203.4" y="489.6" font-size="10.3" font-weight="normal" text-anchor="middle" fill="#222" stroke="#222" stroke-width="0.3">(7.78m x 3.78m)</text><text x="674.7" y="343.3" font-size="10.3" font-weight="normal" text-anchor="middle" fill="#222" stroke="#222" stroke-width="0.3">33'8&quot; x 22'5&quot;</text><text x="674.7" y="355.3" font-size="10.3" font-weight="normal" text-anchor="middle" fill="#222" stroke="#222" stroke-width="0.3">(10.27m x 6.83m)</text><text x="894" y="468.2" font-size="10.3" font-weight="normal" text-anchor="middle" fill="#222" stroke="#222" stroke-width="0.3">9'10&quot; x 5'8&quot;</text><text x="894" y="480.2" font-size="10.3" font-weight="normal" text-anchor="middle" fill="#222" stroke="#222" stroke-width="0.3">(3.00m x 1.73m)</text><text x="894" y="538.3" font-size="10.3" font-weight="normal" text-anchor="middle" fill="#222" stroke="#222" stroke-width="0.3">9'10&quot; x 6'8&quot;</text><text x="894" y="550.3" font-size="10.3" font-weight="normal" text-anchor="middle" fill="#222" stroke="#222" stroke-width="0.3">(3.00m x 2.02m)</text><text x="46" y="611.4" font-size="14.3" font-weight="bold" text-anchor="start" fill="#111" stroke="#111" stroke-width="0.2">Ground Floor</text><text x="527.8" y="611.4" font-size="14.3" font-weight="bold" text-anchor="start" fill="#111" stroke="#111" stroke-width="0.2">First Floor</text><text x="511.6" y="683.2" font-size="11.86" font-weight="normal" text-anchor="middle" fill="#222" stroke="#222" stroke-width="0.3">Illustration for identification purpose only, measurements approximate,and not to scale.</text>
</svg>
</body></html>
